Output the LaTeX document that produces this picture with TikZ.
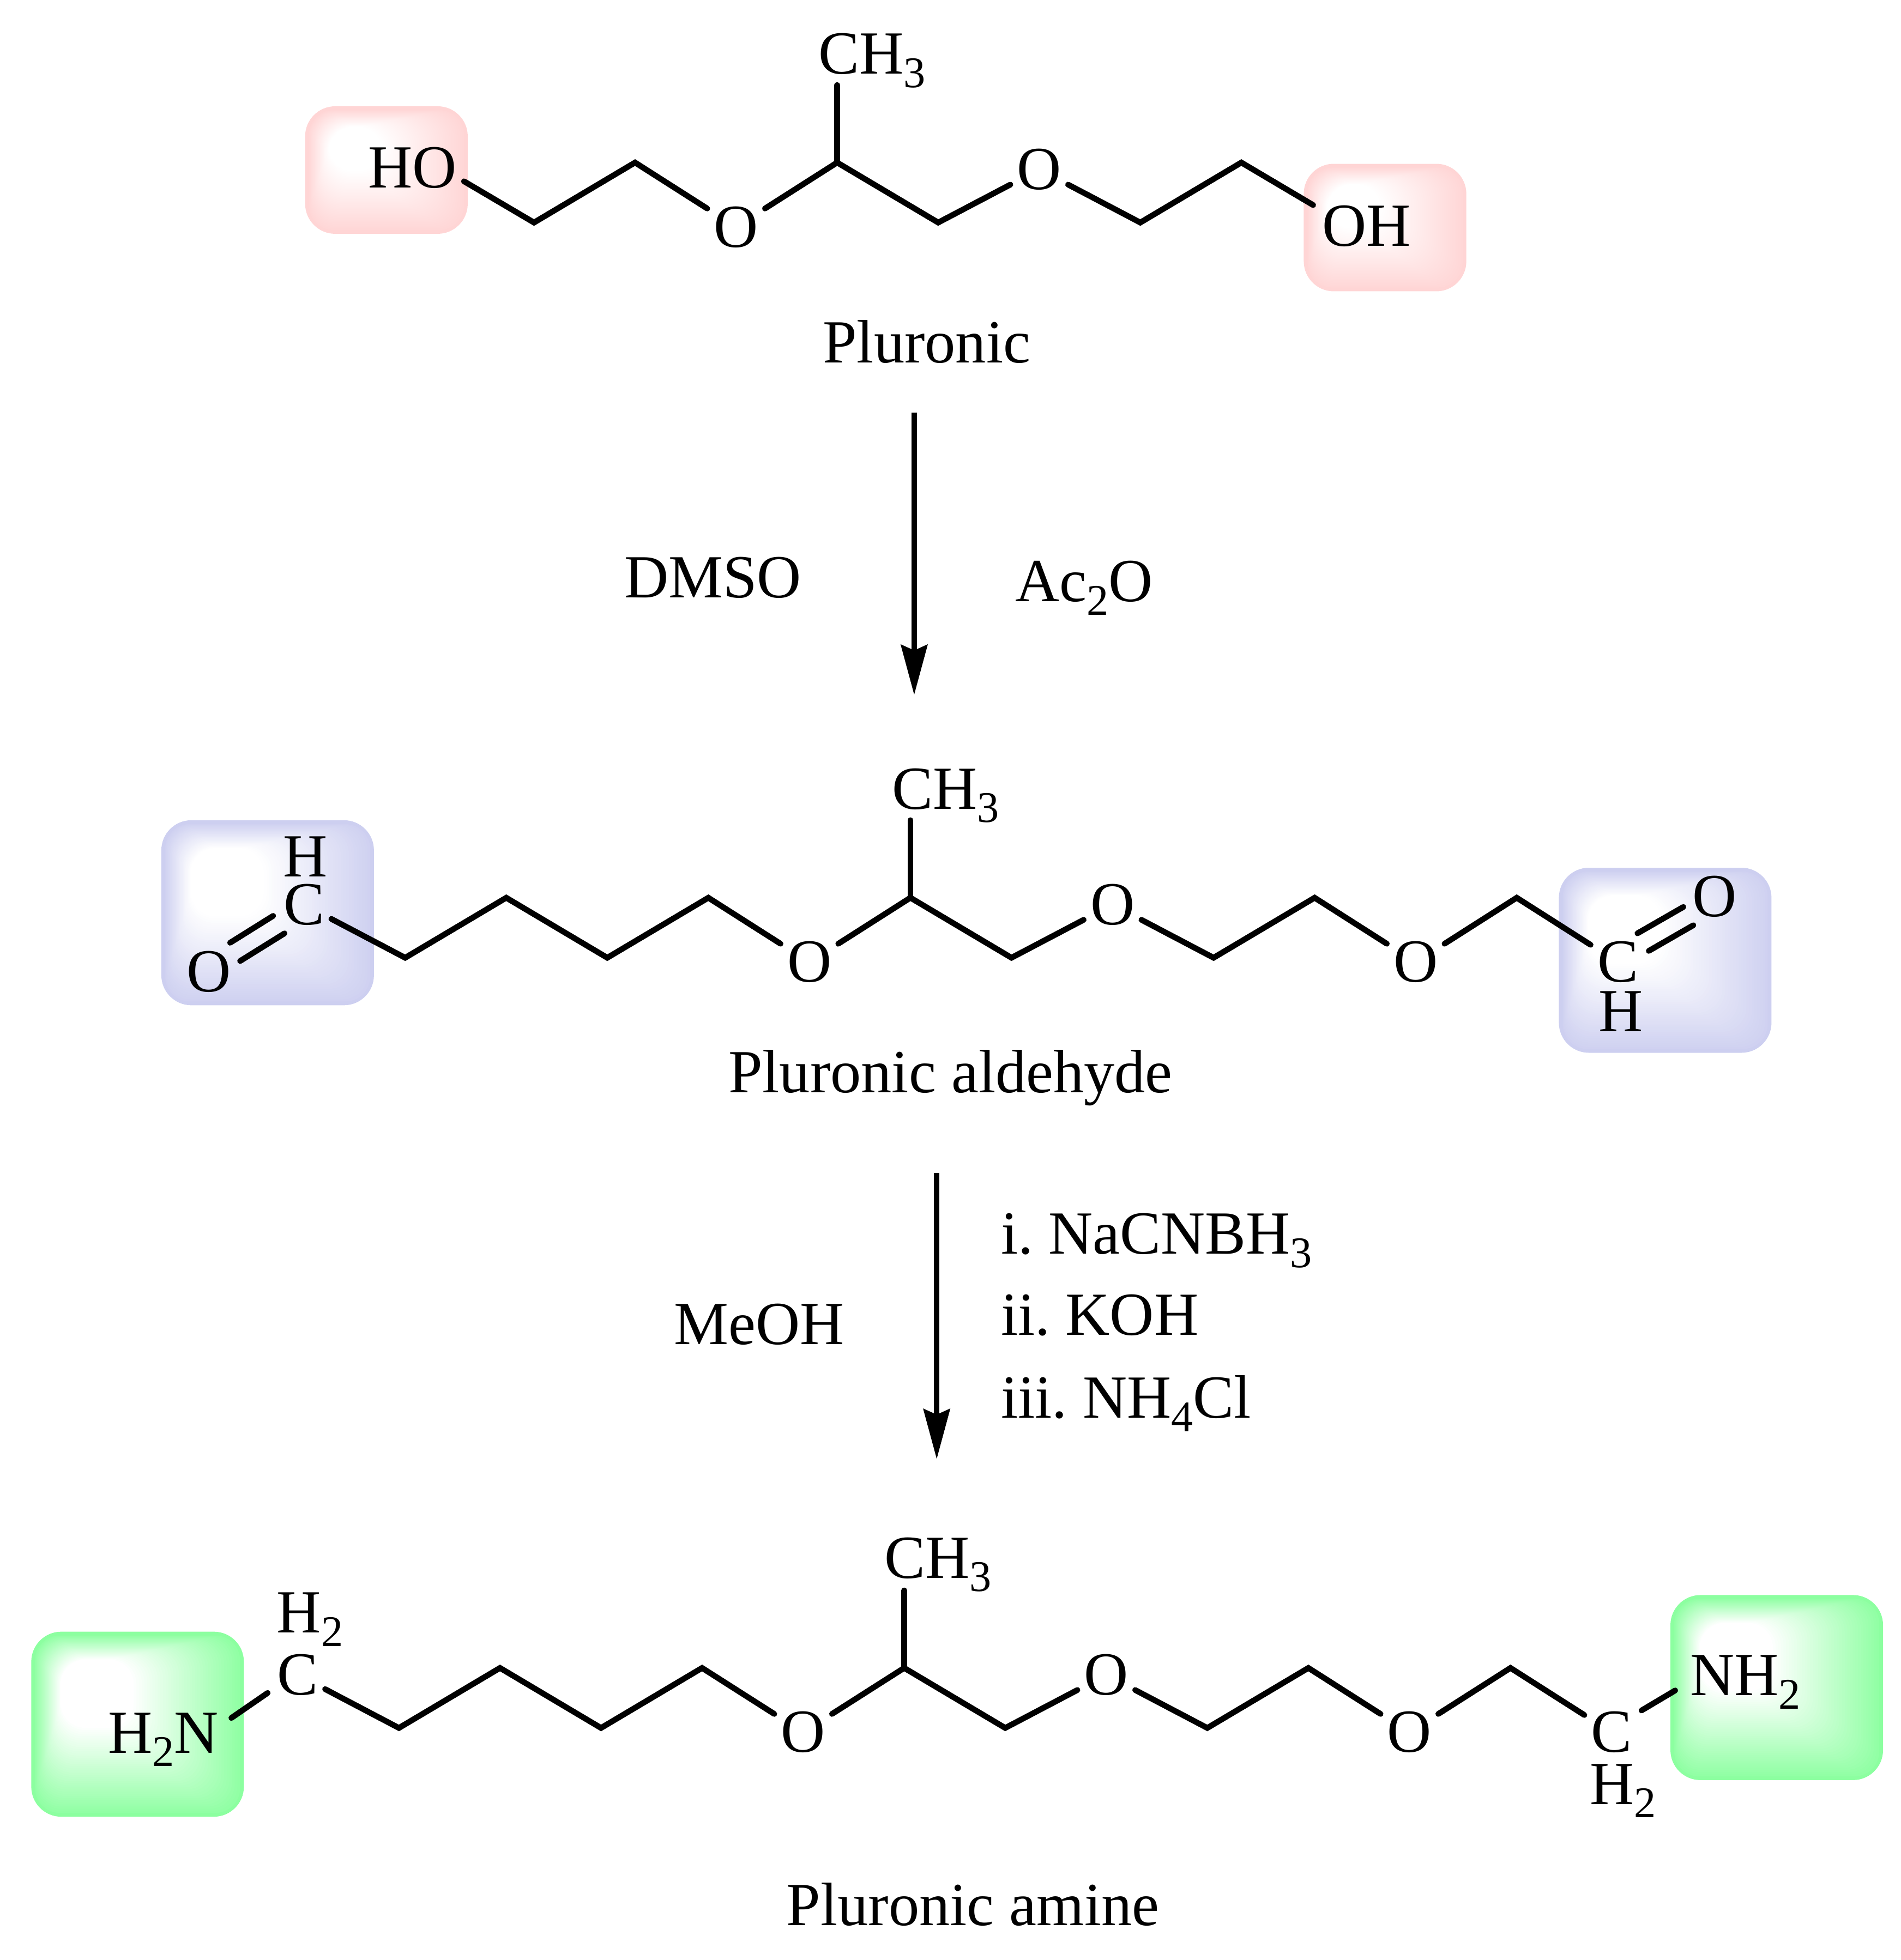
\documentclass[tikz,border=0pt]{standalone}
\usepackage{fontspec}
\setmainfont{Liberation Serif}
\usetikzlibrary{arrows.meta,positioning,calc}
\newcommand{\chemsub}[1]{\raisebox{-0.22em}{\fontsize{17.5}{20}\selectfont #1}}
\tikzset{
    caption/.style={font=\fontsize{24.5}{28}\selectfont\frenchspacing, inner sep=0pt, anchor=base},
    groupname/.style={caption, anchor=base west},
    atom/.style={font=\fontsize{24.5}{28}\selectfont, inner sep=2.5pt},
    atomlo/.style={atom, yshift=-1.75pt},
    atomhi/.style={atom, yshift=-2.75pt},
    bond/.style={draw, line width=2.3pt, line cap=round, line join=miter},
    reaction/.style={draw, line width=2.2pt, -{Stealth[length=20pt, width=10.5pt, inset=2.2pt]}},
    zigup/.style={above right=24pt and 40.4pt of #1},
    zigdn/.style={below right=24pt and 40.4pt of #1},
    glowbox/.style n args={3}{rectangle, rounded corners=12pt, minimum width=#2 pt, minimum height=#3 pt, inner sep=0pt, fill=#1,
        path picture={
            \foreach \t in {0,0.025,...,1} {
                \pgfmathsetmacro{\mixv}{95*(1-\t)}
                \pgfmathsetmacro{\lf}{1.5+0.12*#2*\t}
                \pgfmathsetmacro{\tp}{1.5+0.13*#3*\t}
                \pgfmathsetmacro{\rt}{1.5+0.5*#2*\t}
                \pgfmathsetmacro{\bt}{1.5+0.46*#3*\t}
                \fill [#1!\mixv!white, rounded corners=10pt]
                    ($(path picture bounding box.north west)+(\lf pt,-\tp pt)$) rectangle
                    ($(path picture bounding box.south east)+(-\rt pt,\bt pt)$);
            }
        }}
}
\definecolor{pinkend}{RGB}{255,213,213}
\definecolor{blueend}{RGB}{205,207,240}
\definecolor{greenend}{RGB}{140,255,160}

\begin{document}
\begin{tikzpicture}[x=0.5pt, y=-0.5pt, on grid]
    \useasboundingbox (0,0) rectangle (1520,1567.6);

    % end groups
    \node [glowbox={pinkend}{65}{51}] (pinkl) at (309,136) {};
    \node [glowbox={pinkend}{65}{51}] (pinkr) at (1107.5,182) {};
    \node [glowbox={blueend}{85}{74}] (bluel) at (214,730) {};
    \node [glowbox={blueend}{85}{74}] (bluer) at (1331.5,768) {};
    \node [glowbox={greenend}{85}{74}] (greenl) at (110,1379) {};
    \node [glowbox={greenend}{85}{74}] (greenr) at (1420.7,1349.7) {};

    % Pluronic
    \coordinate (pa1) at (427,178);
    \coordinate [zigup=pa1] (pa2);
    \coordinate [zigdn=pa2] (pa3);
    \coordinate [zigup=pa3] (pa4);
    \coordinate [zigdn=pa4] (pa5);
    \coordinate [zigup=pa5] (pa6);
    \coordinate [zigdn=pa6] (pa7);
    \coordinate [zigup=pa7] (pa8);
    \coordinate [above=31pt of pa4] (pme);
    \coordinate (pel) at (371,145);
    \coordinate (per) at (1050,164);
    \node [groupname] (pho) at (294,150) {HO};
    \node [groupname] (poh) at (1057,197) {OH};
    \node [groupname] (pch) at (654,59) {CH\chemsub{3}};
    \node [atomlo] (po1) at (pa3) {O};
    \node [atomhi] (po2) at (pa6) {O};
    \node [caption] (pname) at (741,290) {Pluronic};

    \path [bond] (pel) -- (pa1) -- (pa2) -- (po1);
    \path [bond] (po1) -- (pa4) -- (pa5) -- (po2);
    \path [bond] (po2) -- (pa7) -- (pa8) -- (per);
    \path [bond] (pme) -- (pa4);

    % first step
    \coordinate (ar1) at (731,330);
    \coordinate [below=112.9pt of ar1] (ar2);
    \path [reaction] (ar1) -- (ar2);
    \node [caption] (dmso) at (570,478) {DMSO};
    \node [caption] (ac2o) at (867,481) {Ac\chemsub{2}O};

    % Pluronic aldehyde
    \coordinate (ba0) at (243.2,718);
    \coordinate [zigdn=ba0] (ba1);
    \coordinate [zigup=ba1] (ba2);
    \coordinate [zigdn=ba2] (ba3);
    \coordinate [zigup=ba3] (ba4);
    \coordinate [zigdn=ba4] (ba5);
    \coordinate [zigup=ba5] (ba6);
    \coordinate [zigdn=ba6] (ba7);
    \coordinate [zigup=ba7] (ba8);
    \coordinate [zigdn=ba8] (ba9);
    \coordinate [zigup=ba9] (ba10);
    \coordinate [zigdn=ba10] (ba11);
    \coordinate [zigup=ba11] (ba12);
    \coordinate [zigdn=ba12] (ba13);
    \coordinate [above=31pt of ba6] (bme);
    \node [atomhi] (bcl) at (ba0) {C};
    \node [atomlo] (bcr) at (ba13) {C};
    \node [atom] (bhl) at (244,685) {H};
    \node [atom] (bhr) at (1296,809) {H};
    \node [atom] (bol) at (167,777) {O};
    \node [atom] (bor) at (1371,717) {O};
    \node [atomlo] (bo1) at (ba5) {O};
    \node [atomhi] (bo2) at (ba8) {O};
    \node [atomlo] (bo3) at (ba11) {O};
    \node [groupname] (bch) at (713,647) {CH\chemsub{3}};
    \node [caption] (bname) at (760,874) {Pluronic aldehyde};

    \path [bond] (bcl) -- (ba1) -- (ba2) -- (ba3) -- (ba4) -- (bo1);
    \path [bond] (bo1) -- (ba6) -- (ba7) -- (bo2);
    \path [bond] (bo2) -- (ba9) -- (ba10) -- (bo3);
    \path [bond] (bo3) -- (ba12) -- (bcr);
    \path [bond] (bme) -- (ba6);
    \path [bond] ([shift={(-12.4pt,-4.5pt)}]bcl.center) -- ([shift={(8.5pt,11.5pt)}]bol.center);
    \path [bond] ([shift={(-7.85pt,-11.5pt)}]bcl.center) -- ([shift={(12.5pt,4.2pt)}]bol.center);
    \path [bond] ([shift={(12.4pt,4.5pt)}]bcr.center) -- ([shift={(-8.5pt,-11.5pt)}]bor.center);
    \path [bond] ([shift={(7.85pt,11.5pt)}]bcr.center) -- ([shift={(-12.5pt,-4.2pt)}]bor.center);

    % second step
    \coordinate (ar3) at (749,938);
    \coordinate [below=114.5pt of ar3] (ar4);
    \path [reaction] (ar3) -- (ar4);
    \node [caption] (meoh) at (607,1075) {MeOH};
    \node [groupname] (step1) at (800,1003) {i. NaCNBH\chemsub{3}};
    \node [groupname] (step2) at (800,1068) {ii. KOH};
    \node [groupname] (step3) at (800,1134) {iii. NH\chemsub{4}Cl};

    % Pluronic amine
    \coordinate (am0) at (238.2,1334);
    \coordinate [zigdn=am0] (am1);
    \coordinate [zigup=am1] (am2);
    \coordinate [zigdn=am2] (am3);
    \coordinate [zigup=am3] (am4);
    \coordinate [zigdn=am4] (am5);
    \coordinate [zigup=am5] (am6);
    \coordinate [zigdn=am6] (am7);
    \coordinate [zigup=am7] (am8);
    \coordinate [zigdn=am8] (am9);
    \coordinate [zigup=am9] (am10);
    \coordinate [zigdn=am10] (am11);
    \coordinate [zigup=am11] (am12);
    \coordinate [zigdn=am12] (am13);
    \coordinate [above=31pt of am6] (ame);
    \coordinate (an1) at (185,1374);
    \coordinate (an2) at (214,1354);
    \coordinate (an3) at (1312.6,1368);
    \coordinate (an4) at (1339.5,1352);
    \node [atomhi] (acl) at (am0) {C};
    \node [atomlo] (acr) at (am13) {C};
    \node [groupname] (ahl) at (221,1306) {H\chemsub{2}};
    \node [groupname] (ahr) at (1271,1443) {H\chemsub{2}};
    \node [groupname] (anl) at (86,1402) {H\chemsub{2}N};
    \node [groupname] (anr) at (1351,1356) {NH\chemsub{2}};
    \node [atomlo] (ao1) at (am5) {O};
    \node [atomhi] (ao2) at (am8) {O};
    \node [atomlo] (ao3) at (am11) {O};
    \node [groupname] (ach) at (707,1262) {CH\chemsub{3}};
    \node [caption] (aname) at (778,1540) {Pluronic amine};

    \path [bond] (acl) -- (am1) -- (am2) -- (am3) -- (am4) -- (ao1);
    \path [bond] (ao1) -- (am6) -- (am7) -- (ao2);
    \path [bond] (ao2) -- (am9) -- (am10) -- (ao3);
    \path [bond] (ao3) -- (am12) -- (acr);
    \path [bond] (ame) -- (am6);
    \path [bond] (an1) -- (an2);
    \path [bond] (an3) -- (an4);
\end{tikzpicture}
\end{document}
